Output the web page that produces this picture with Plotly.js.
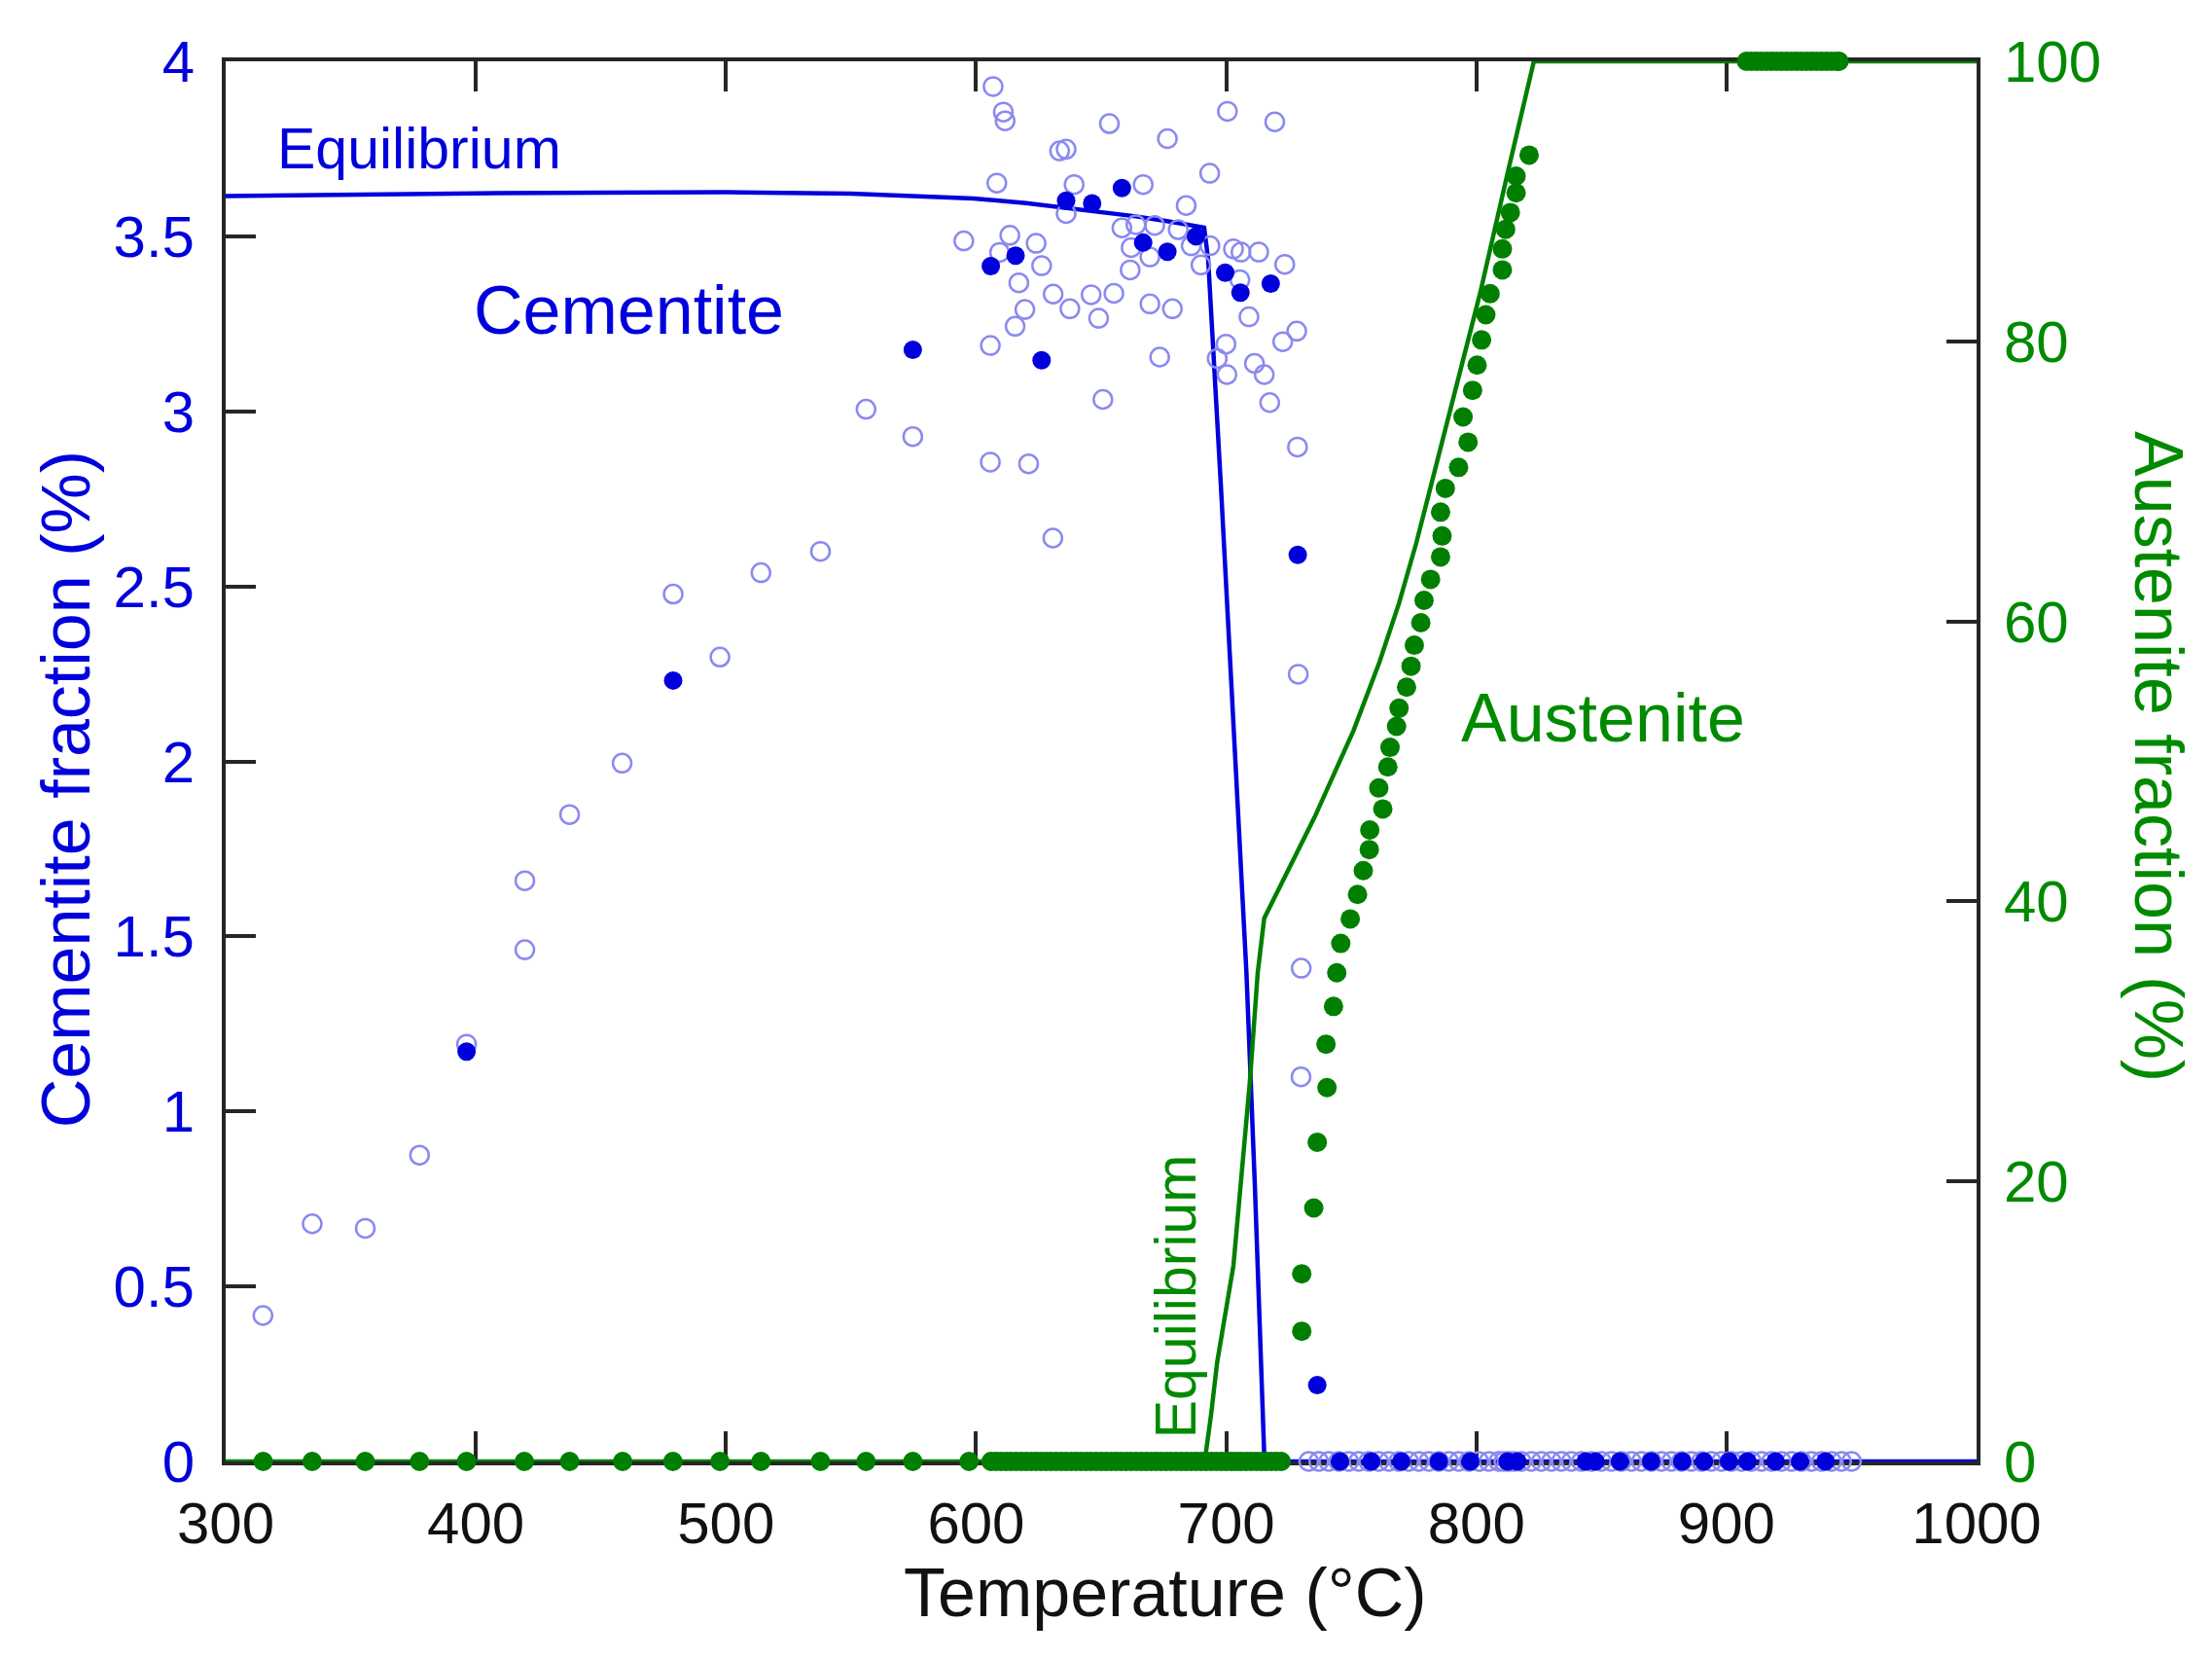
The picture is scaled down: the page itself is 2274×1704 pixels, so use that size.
<!DOCTYPE html>
<html>
<head>
<meta charset="utf-8">
<script src="https://cdn.plot.ly/plotly-3.0.1.min.js"></script>
<style>html,body{margin:0;padding:0;background:#fff;}#chart{width:2274px;height:1704px;}</style>
</head>
<body>
<div id="chart"></div>
<script>
// ---- Equilibrium cementite curve (left axis, %) ----
const cemEqT = [300, 350, 400, 450, 500, 550, 599, 620, 637.9, 663.9, 676.9, 691.2, 692.8, 695.1, 697.9, 702, 708.1, 711.5, 714.6, 715.3, 1000];
const cemEqV = [3.615, 3.62, 3.623, 3.625, 3.626, 3.622, 3.608, 3.595, 3.58, 3.557, 3.543, 3.525, 3.433, 3.155, 2.784, 2.23, 1.395, 0.78, 0.145, 0, 0];

// ---- Equilibrium austenite curve (right axis, %) ----
const ausEqT = [300, 691.4, 694, 696.4, 702.9, 709.4, 712.6, 715.2, 735.3, 750.9, 761.3, 769.1, 776, 788.4, 801.6, 812.6, 819.4, 823, 1000];
const ausEqV = [0, 0, 3.4, 7.1, 14.0, 27.0, 34.9, 38.8, 46.0, 52.2, 57.1, 61.3, 65.6, 74.2, 83.5, 92.1, 97.4, 100, 100];

// ---- Measured cementite, open circles ----
const cemOpenT = [314.9, 334.6, 355.8, 377.5, 396.3, 419.6, 419.6, 437.5, 458.5, 478.9, 497.6, 514.0, 537.8, 556.0, 574.7, 595.1,
  605.7, 605.7, 606.8, 608.3, 609.4, 610.9, 611.6, 613.5, 615.6, 617.1, 619.5, 621.0, 624.0, 626.2, 630.7, 630.8, 633.4, 636.0, 636.0,
  637.5, 639.2, 646.0, 649.0, 650.7, 653.3, 655.1, 658.3, 661.6, 662.0, 663.9, 666.8, 669.5, 669.5, 671.4, 673.4, 676.5, 678.5, 680.8,
  684.0, 686.0, 689.9, 693.4, 693.5, 696.4, 699.9, 700.3, 700.5, 702.9, 705.5, 705.9, 709.1, 711.3, 713.0, 715.2, 717.4, 719.4, 722.6,
  723.4, 728.2, 728.5, 728.8, 730.0, 729.9,
  733, 737, 741, 745, 749, 753, 757, 761, 765, 769, 773, 777, 781, 785, 789, 793, 797, 801, 805, 809, 811, 813, 815, 818, 822, 826, 830,
  834, 838, 842, 846, 850, 854, 858, 862, 866, 870, 874, 878, 882, 886, 890, 894, 898, 902, 906, 910, 914, 918, 922, 926, 930, 934, 938,
  942, 946, 950];
const cemOpenV = [0.417, 0.679, 0.666, 0.875, 1.192, 1.462, 1.659, 1.848, 1.995, 2.478, 2.298, 2.539, 2.600, 3.006, 2.928, 3.487,
  3.188, 2.855, 3.928, 3.652, 3.454, 3.855, 3.830, 3.503, 3.243, 3.367, 3.291, 2.850, 3.480, 3.416, 2.638, 3.335, 3.744, 3.749, 3.565,
  3.293, 3.648, 3.333, 3.266, 3.034, 3.822, 3.337, 3.524, 3.404, 3.468, 3.533, 3.648, 3.441, 3.307, 3.531, 3.155, 3.779, 3.293, 3.519,
  3.588, 3.473, 3.418, 3.680, 3.473, 3.151, 3.192, 3.105, 3.857, 3.464, 3.376, 3.455, 3.270, 3.137, 3.455, 3.105, 3.025, 3.827, 3.199,
  3.420, 3.229, 2.898, 2.249, 1.409, 1.099,
  0, 0, 0, 0, 0, 0, 0, 0, 0, 0, 0, 0, 0, 0, 0, 0, 0, 0, 0, 0, 0, 0, 0, 0, 0, 0, 0,
  0, 0, 0, 0, 0, 0, 0, 0, 0, 0, 0, 0, 0, 0, 0, 0, 0, 0, 0, 0, 0, 0, 0, 0, 0, 0, 0,
  0, 0, 0];

// ---- Measured cementite, filled dots ----
const cemFillT = [396.3, 478.9, 574.7, 605.9, 615.8, 626.2, 636.0, 646.4, 658.3, 666.8, 676.5, 687.9, 699.6, 705.7, 717.8, 728.6, 736.4,
  745.5, 758, 770, 785, 797.6, 812.5, 816.4, 843.7, 847.6, 857.4, 869.9, 882.3, 891, 901, 908.4, 919.6, 929.4, 939.6];
const cemFillV = [1.171, 2.231, 3.176, 3.415, 3.445, 3.146, 3.602, 3.594, 3.638, 3.482, 3.456, 3.500, 3.396, 3.339, 3.365, 2.590, 0.218,
  0, 0, 0, 0, 0, 0, 0, 0, 0, 0, 0, 0, 0, 0, 0, 0, 0, 0];

// ---- Measured austenite, filled green dots ----
const ausT = [315, 334.6, 355.8, 377.5, 396.3, 419.4, 437.5, 458.7, 478.8, 497.6, 514, 537.8, 556, 574.7, 597.2,
  606, 608, 610, 612, 614, 616, 618, 620, 622, 624, 626, 628, 630, 632, 634, 636, 638, 640, 642, 644, 646, 648, 650, 652, 654, 656, 658,
  660, 662, 664, 666, 668, 670, 672, 674, 676, 678, 680, 682, 684, 686, 688, 690, 692, 694, 696, 698, 700, 702, 704, 706, 708, 710, 712,
  714, 716, 718, 720, 722,
  730.2, 730.2, 735.0, 736.4, 740.3, 739.9, 742.9, 744.2, 745.8, 749.6, 752.5, 754.8, 757.2, 757.4, 762.6, 761.0, 764.6, 765.5, 768.1,
  769.1, 772.1, 773.9, 775.2, 777.8, 779.1, 781.7, 785.7, 786.3, 785.7, 787.6, 792.9, 796.7, 794.7, 798.5, 800.3, 802.1, 803.8, 805.5,
  810.4, 810.4, 811.7, 813.6, 815.9, 815.9, 821.1,
  908, 910, 912, 914, 916, 918, 920, 922, 924, 926, 928, 930, 932, 934, 936, 938, 940, 942, 944, 945];
const ausV = [0, 0, 0, 0, 0, 0, 0, 0, 0, 0, 0, 0, 0, 0, 0,
  0, 0, 0, 0, 0, 0, 0, 0, 0, 0, 0, 0, 0, 0, 0, 0, 0, 0, 0, 0, 0, 0, 0, 0, 0, 0, 0,
  0, 0, 0, 0, 0, 0, 0, 0, 0, 0, 0, 0, 0, 0, 0, 0, 0, 0, 0, 0, 0, 0, 0, 0, 0, 0, 0,
  0, 0, 0, 0, 0,
  9.3, 13.4, 18.1, 22.8, 26.7, 29.8, 32.5, 34.9, 37.0, 38.75, 40.5, 42.2, 43.7, 45.1, 46.6, 48.1, 49.6, 51.0, 52.5,
  53.8, 55.3, 56.8, 58.3, 59.9, 61.5, 63.0, 64.6, 66.1, 67.8, 69.5, 71.0, 72.8, 74.6, 76.5, 78.3, 80.1, 81.9, 83.4,
  85.1, 86.6, 88.0, 89.2, 90.6, 91.8, 93.3,
  100, 100, 100, 100, 100, 100, 100, 100, 100, 100, 100, 100, 100, 100, 100, 100, 100, 100, 100, 100];

// ---- Axis ticks ----
const xTicks = [300, 400, 500, 600, 700, 800, 900, 1000];
const yTicks = [0, 0.5, 1, 1.5, 2, 2.5, 3, 3.5, 4];
const yTickText = ['0', '0.5', '1', '1.5', '2', '2.5', '3', '3.5', '4'];
const y2Ticks = [0, 20, 40, 60, 80, 100];

const BLUE = '#0000dc';
const BLUE_LIGHT = '#8a8af0';
const GREEN = '#007f00';
const GREEN_TXT = '#008a00';
const AXC = '#262626';
const FONT = 'Liberation Sans, Arial, Helvetica, sans-serif';

const traces = [
  {x: cemEqT, y: cemEqV, type: 'scatter', mode: 'lines', line: {color: BLUE, width: 4.5}, yaxis: 'y', hoverinfo: 'skip'},
  {x: cemOpenT, y: cemOpenV, type: 'scatter', mode: 'markers', cliponaxis: false, yaxis: 'y',
   marker: {symbol: 'circle-open', size: 19, color: BLUE_LIGHT, line: {width: 2.5, color: BLUE_LIGHT}}},
  {x: cemFillT, y: cemFillV, type: 'scatter', mode: 'markers', cliponaxis: false, yaxis: 'y',
   marker: {symbol: 'circle', size: 19, color: BLUE, line: {width: 0}}},
  {x: ausEqT, y: ausEqV, type: 'scatter', mode: 'lines', line: {color: GREEN, width: 4.5}, yaxis: 'y2', hoverinfo: 'skip'},
  {x: ausT, y: ausV, type: 'scatter', mode: 'markers', cliponaxis: false, yaxis: 'y2',
   marker: {symbol: 'circle', size: 20, color: GREEN, line: {width: 0}}}
];

const layout = {
  width: 2274, height: 1704,
  margin: {l: 232, r: 242, t: 63, b: 202, pad: 0},
  paper_bgcolor: '#ffffff', plot_bgcolor: '#ffffff',
  showlegend: false,
  font: {family: FONT, size: 60, color: '#000'},
  xaxis: {
    range: [300, 1000], tickvals: xTicks, ticktext: xTicks.map(String),
    ticks: 'inside', ticklen: 31, tickwidth: 4, tickcolor: AXC,
    showline: true, linecolor: AXC, linewidth: 4, mirror: 'ticks',
    showgrid: false, zeroline: false, layer: 'below traces',
    tickfont: {family: FONT, size: 60, color: '#111'}, ticklabelstandoff: 8
  },
  yaxis: {
    range: [0, 4], tickvals: yTicks, ticktext: yTickText,
    ticks: 'inside', ticklen: 31, tickwidth: 4, tickcolor: AXC,
    showline: true, linecolor: AXC, linewidth: 4, mirror: true,
    showgrid: false, zeroline: false, layer: 'below traces',
    tickfont: {family: FONT, size: 60, color: BLUE}, ticklabelstandoff: 16
  },
  yaxis2: {
    range: [0, 100], tickvals: y2Ticks, ticktext: y2Ticks.map(String),
    overlaying: 'y', side: 'right',
    ticks: 'inside', ticklen: 31, tickwidth: 4, tickcolor: AXC,
    showline: true, linecolor: AXC, linewidth: 4,
    showgrid: false, zeroline: false, layer: 'below traces',
    tickfont: {family: FONT, size: 60, color: GREEN_TXT}, ticklabelstandoff: 12
  },
  annotations: [
    {text: 'Temperature (°C)', xref: 'paper', yref: 'paper', x: 0.5368, y: -0.094, xanchor: 'center', yanchor: 'middle',
     showarrow: false, font: {family: FONT, size: 70, color: '#111'}},
    {text: 'Cementite fraction (%)', xref: 'paper', yref: 'paper', x: -0.0911, y: 0.48, xanchor: 'center', yanchor: 'middle',
     textangle: -90, showarrow: false, font: {family: FONT, size: 70, color: BLUE}},
    {text: 'Austenite fraction (%)', xref: 'paper', yref: 'paper', x: 1.1039, y: 0.5038, xanchor: 'center', yanchor: 'middle',
     textangle: 90, showarrow: false, font: {family: FONT, size: 70, color: GREEN_TXT}},
    {text: 'Equilibrium', xref: 'x', yref: 'y', x: 377.5, y: 3.749, xanchor: 'center', yanchor: 'middle',
     showarrow: false, font: {family: FONT, size: 59, color: BLUE}},
    {text: 'Cementite', xref: 'x', yref: 'y', x: 461.3, y: 3.288, xanchor: 'center', yanchor: 'middle',
     showarrow: false, font: {family: FONT, size: 70, color: BLUE}},
    {text: 'Austenite', xref: 'x', yref: 'y2', x: 850.8, y: 53.1, xanchor: 'center', yanchor: 'middle',
     showarrow: false, font: {family: FONT, size: 70, color: GREEN_TXT}},
    {text: 'Equilibrium', xref: 'x', yref: 'y2', x: 680.0, y: 11.8, xanchor: 'center', yanchor: 'middle',
     textangle: -90, showarrow: false, font: {family: FONT, size: 59, color: GREEN_TXT}}
  ]
};

Plotly.newPlot('chart', traces, layout, {staticPlot: true, displayModeBar: false});
</script>
</body>
</html>
